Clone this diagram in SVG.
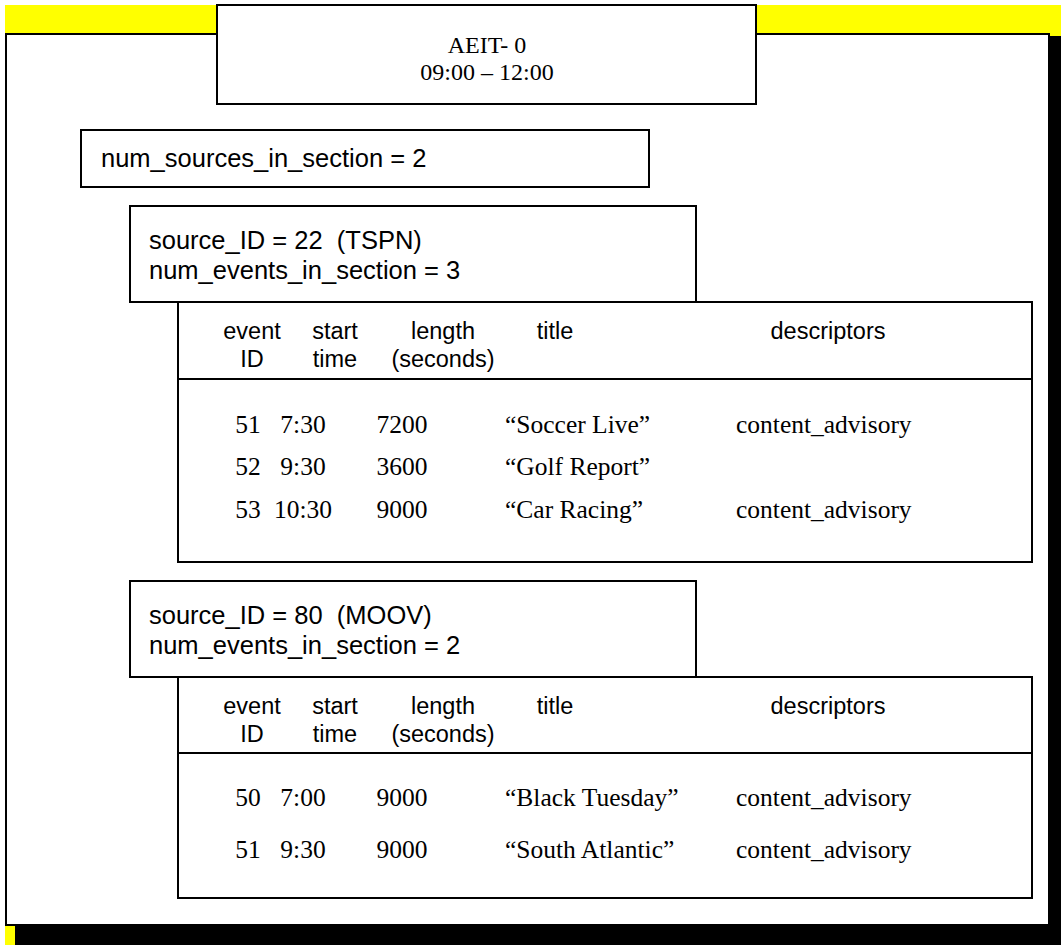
<svg xmlns="http://www.w3.org/2000/svg" width="1061" height="945" viewBox="0 0 1061 945">
<style>
.box{fill:#fff;stroke:#000;stroke-width:2}
.sans{font-family:"Liberation Sans",Arial,sans-serif;fill:#000}
.serif{font-family:"Liberation Serif","Times New Roman",serif;fill:#000}
.lbl{font-size:25.5px;white-space:pre}
.hdr{font-size:23.5px;text-anchor:middle}
.dat{font-size:25.5px}
.mid{text-anchor:middle}
.ttl{font-size:24px;text-anchor:middle}
</style>
<g id="background">
<rect x="5" y="5" width="1056" height="940" fill="#ffff00"/>
<rect x="15" y="36" width="1046" height="909" fill="#000"/>
<rect class="box" x="6" y="34" width="1043" height="891"/>
</g>
<g id="title">
<rect class="box" x="217" y="5" width="539" height="99"/>
<text class="serif ttl" x="487" y="53">AEIT- 0</text>
<text class="serif ttl" x="487" y="80">09:00 – 12:00</text>
</g>
<g id="num-sources">
<rect class="box" x="81" y="130" width="568" height="57"/>
<text class="sans lbl" x="101" y="167">num_sources_in_section = 2</text>
</g>
<g id="source-22">
<rect class="box" x="130" y="206" width="566" height="96"/>
<text class="sans lbl" x="149" y="249" xml:space="preserve">source_ID = 22  (TSPN)</text>
<text class="sans lbl" x="149" y="279">num_events_in_section = 3</text>
</g>
<g id="table-22">
<rect class="box" x="178" y="302" width="854" height="260"/>
<line x1="178" y1="379" x2="1032" y2="379" stroke="#000" stroke-width="2"/>
<text class="sans hdr" x="252" y="339">event</text>
<text class="sans hdr" x="252" y="367">ID</text>
<text class="sans hdr" x="335" y="339">start</text>
<text class="sans hdr" x="335" y="367">time</text>
<text class="sans hdr" x="443" y="339">length</text>
<text class="sans hdr" x="443" y="367">(seconds)</text>
<text class="sans hdr" x="555" y="339">title</text>
<text class="sans hdr" x="828" y="339">descriptors</text>
<text class="serif dat mid" x="248" y="433">51</text>
<text class="serif dat mid" x="303" y="433">7:30</text>
<text class="serif dat mid" x="402" y="433">7200</text>
<text class="serif dat" x="505" y="433">“Soccer Live”</text>
<text class="serif dat" x="736" y="433">content_advisory</text>
<text class="serif dat mid" x="248" y="475">52</text>
<text class="serif dat mid" x="303" y="475">9:30</text>
<text class="serif dat mid" x="402" y="475">3600</text>
<text class="serif dat" x="505" y="475">“Golf Report”</text>
<text class="serif dat mid" x="248" y="518">53</text>
<text class="serif dat mid" x="303" y="518">10:30</text>
<text class="serif dat mid" x="402" y="518">9000</text>
<text class="serif dat" x="505" y="518">“Car Racing”</text>
<text class="serif dat" x="736" y="518">content_advisory</text>
</g>
<g id="source-80">
<rect class="box" x="130" y="581" width="566" height="96"/>
<text class="sans lbl" x="149" y="624" xml:space="preserve">source_ID = 80  (MOOV)</text>
<text class="sans lbl" x="149" y="654">num_events_in_section = 2</text>
</g>
<g id="table-80">
<rect class="box" x="178" y="677" width="854" height="221"/>
<line x1="178" y1="753" x2="1032" y2="753" stroke="#000" stroke-width="2"/>
<text class="sans hdr" x="252" y="714">event</text>
<text class="sans hdr" x="252" y="742">ID</text>
<text class="sans hdr" x="335" y="714">start</text>
<text class="sans hdr" x="335" y="742">time</text>
<text class="sans hdr" x="443" y="714">length</text>
<text class="sans hdr" x="443" y="742">(seconds)</text>
<text class="sans hdr" x="555" y="714">title</text>
<text class="sans hdr" x="828" y="714">descriptors</text>
<text class="serif dat mid" x="248" y="806">50</text>
<text class="serif dat mid" x="303" y="806">7:00</text>
<text class="serif dat mid" x="402" y="806">9000</text>
<text class="serif dat" x="505" y="806">“Black Tuesday”</text>
<text class="serif dat" x="736" y="806">content_advisory</text>
<text class="serif dat mid" x="248" y="858">51</text>
<text class="serif dat mid" x="303" y="858">9:30</text>
<text class="serif dat mid" x="402" y="858">9000</text>
<text class="serif dat" x="505" y="858">“South Atlantic”</text>
<text class="serif dat" x="736" y="858">content_advisory</text>
</g>
<g id="connectors"/>
</svg>
